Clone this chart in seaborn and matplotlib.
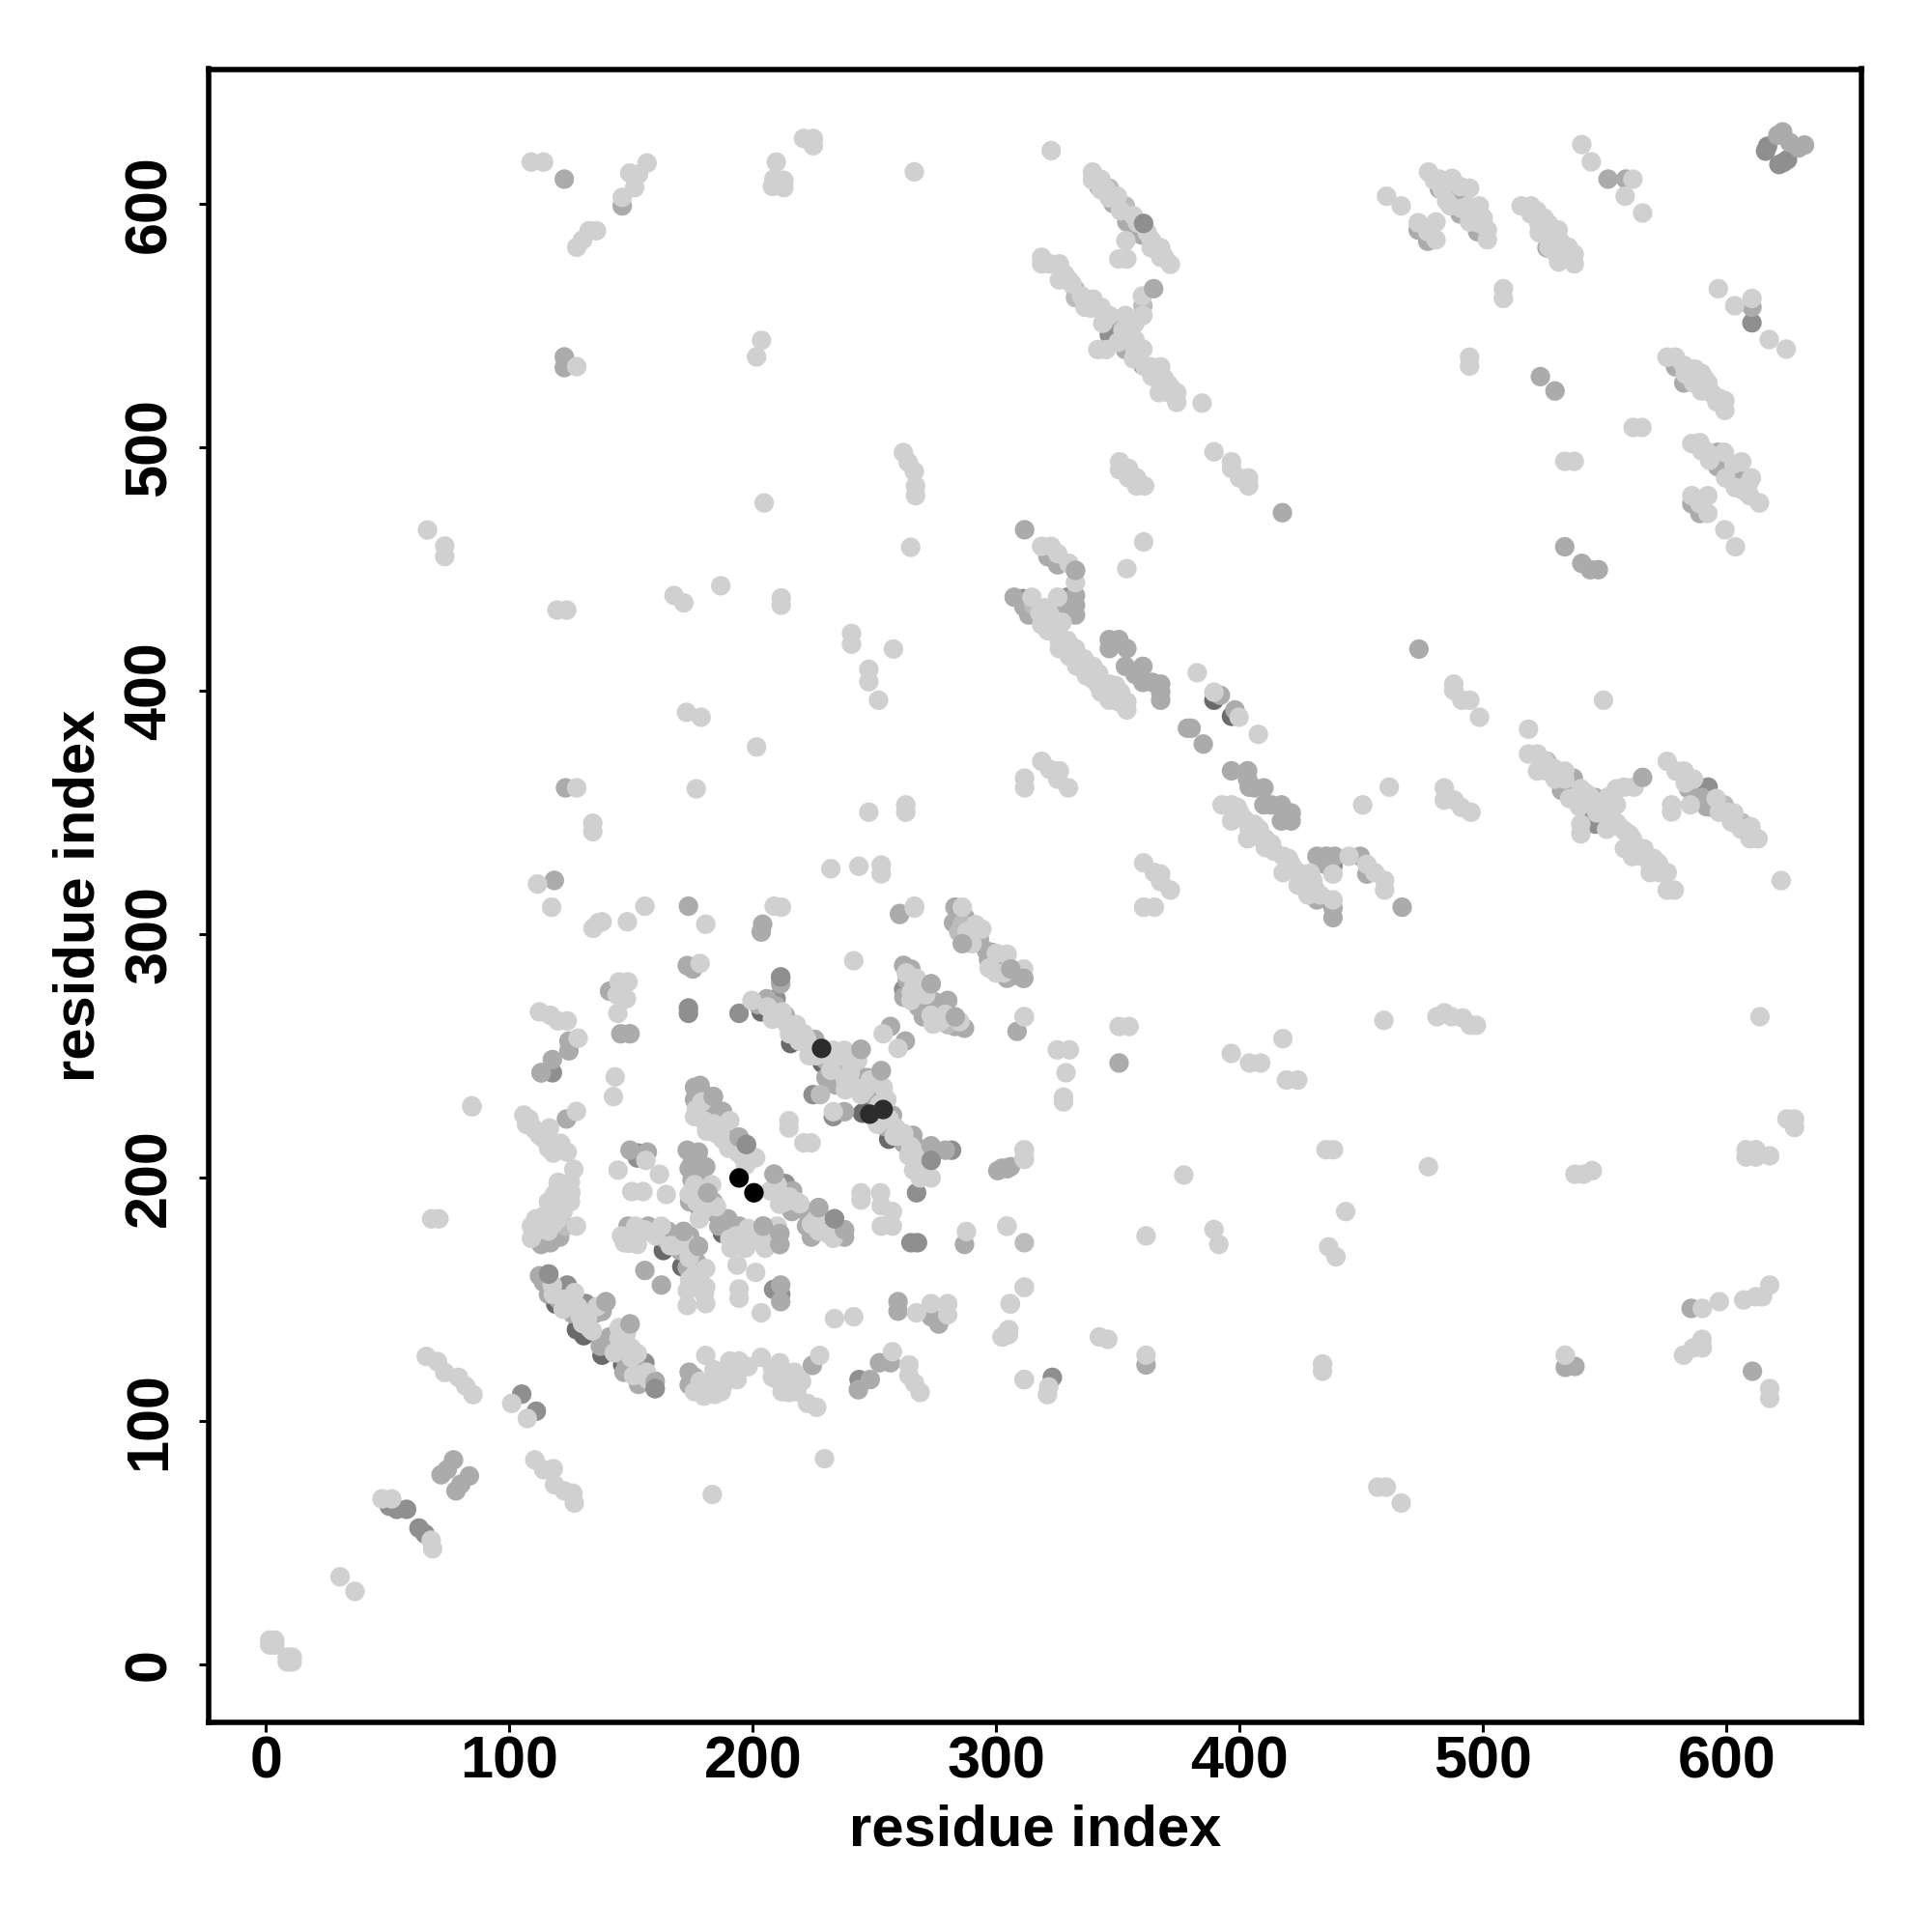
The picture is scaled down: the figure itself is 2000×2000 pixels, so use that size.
import pandas as pd
import matplotlib
matplotlib.use("Agg")
import matplotlib.pyplot as plt
import seaborn as sns

axis_label = "residue index"
x_ticks = [0, 100, 200, 300, 400, 500, 600]
y_ticks = [0, 100, 200, 300, 400, 500, 600]

darker_pts = [(119,148),(127.5,137.5),(130.5,135),(138,127),(170.8,163.4),(163.2,170),(187.5,177),(175.3,193.7),
 (203.4,268),(215.5,255),(228.5,246.9),(245,226.4),(249,228.7),(255.8,215.7),(389.4,396),(396.6,389.4),(146.5,123),(144.2,129)]

dark_pts = [(57.7,63.7),(53.7,63.7),(50.6,65),(65.3,53.6),(62.8,56),(105,111),(111,104),(116.1,160.3),(123.7,155.8),(131.3,148.2),
 (148,131.4),(155.6,123.9),(159.8,116.3),(159.8,113.3),(173.5,267.4),(173.5,269.6),(194.3,267.4),(209.5,273.4),(183.7,233.2),(197.3,213.5),
 (213.3,197.5),(233.5,183),(178.3,186.9),(152.5,208),(153,210),(224.7,234),(233,225),(267.2,205),(273.2,209.7),(267.2,193.7),
 (264.9,173.2),(267.6,173.2),(281.6,211.2),(211.4,282.3),(211.4,152),(208.5,154),(243.6,117),(276.3,264.3),(261.9,277.2),(117.6,243),
 (292.2,300),(311,437.7),(329.2,438.3),(438.3,328),(485.2,603.7),(603.6,486.6),(536.2,360.3),(546.1,353),(543.4,349),(546.1,345.1),
 (589.7,359.6),(592.4,360.3),(350.3,550.8),(346.4,546.1),(349.7,546.1),(360.2,533.6),(323,117.9),(610.4,551),
 (616.8,623.5),(616,621.5),(623.4,616.9),(621.5,616),(625,618)]

mid_pts = [(71.9,77.9),(77,84),(78,71.3),(83.5,77.4),(74.4,80),(80,74),(118.4,322),(122.5,610),(146.3,599),(122.5,537),(122.5,532.6),(123,360),
 (173.5,311.4),(204,304),(203.4,300.8),(260.3,308.4),(283,311),(282.4,304.6),(298.3,292.4),(299.8,288.6),(296.8,289.4),(305.9,285.6),(304.4,281.8),(311.2,281.8),
 (173,287),(175.3,285.6),(211.4,279.5),(261.9,287.1),(264.9,285.6),(263.4,281),(273.2,279.5),(280,272.7),(277,268.9),(283.1,265.9),(286.9,261.3),
 (256.5,262),(262.6,256),(308.5,260),(124.4,256),(124.4,252),(117.6,248.4),(113,243),(141.1,276.5),(145.7,259),(149.5,259),
 (205.7,273.4),(209.5,270.4),(213.3,266.6),(225.4,256.7),(244.4,252.6),(236,241.6),(237.6,227),(252.7,243.8),(257.3,225.6),(265.7,217.3),(279,211.2),
 (304.4,203.6),(300.6,202.8),(286.9,172.5),(178.3,237.8),(176,237),(187.5,227.1),(194.3,216.5),(198,210),(208.7,201.3),(216.3,194.5),(227,187.6),
 (237.6,178.5),(237.6,175.5),(224,175.5),(173,211.2),(177.6,210.4),(180.6,204.4),(173.8,203.6),(181.4,193.7),(183.7,190),(149.5,211.2),(156.6,210.4),
 (148.7,180),(171.5,177.8),(167.7,176.3),(164,174.7),(177.6,171.7),(177,165),(189.7,183),(194.3,180),(204.2,180),(211,177),(211,172.5),(211.4,155.8),(211.4,149),
 (155.6,161.8),(162.4,155.8),(259.6,149),(259.6,145.1),(276.3,139.8),(273.2,142.8),(112.3,159.6),(116,152),(139.6,148.9),(135.8,144.4),
 (149.5,139.8),(141.1,134.5),(137.3,130.7),(173.8,120),(173.8,114.8),(224.4,122.8),(252,123.9),(256.5,123.9),(248.2,117),(243.3,112.8),
 (123.4,224),(120.6,175.5),(116.8,173.2),(113,172.5),(260.3,308),(311.6,466),(332.5,449.3),(332.5,439),(332.5,435),(332.5,431),(328.5,435),
 (307.3,438.3),(311.3,434.4),(313.3,431),(321.2,454.9),(325.2,451.6),(346.4,420.9),(350.3,420.9),(346.4,417.2),(353.6,417.2),(353,409.9),(360.2,409.9),(357,406.6),
 (360.2,403.3),(367.5,402.6),(364.2,403.3),(367.5,396),(367.5,399.3),(417.5,473),(392,398),(398,392),(378.5,384.5),(380,384.5),(385,378),
 (473.6,417),(396.6,367),(403.2,367),(403.2,363.6),(403.9,360.3),(409.9,360),(406,360),(409.9,353),(417.1,353),(421.1,349.7),(421.1,346.4),(417.1,346.4),(413,353),
 (431.7,314),(434.3,314.7),(438.3,310.7),(438.3,306.7),(431.7,331.9),(435.6,331.9),(439,331.9),(435,328.6),(449.5,331.9),(452.2,324.6),(466.7,311),
 (623,629.4),(621,628),(629.6,622.8),(626,625),(632,624),(489.8,600.3),(490.5,595.7),(498.4,595.7),(497.7,588.4),(473.3,589.1),(477.2,584.5),
 (526.2,581.8),(533.5,582.5),(533.5,578.5),(551.3,610),(558.6,610),(610.4,557.4),(523.5,528.9),(529.5,523),(579,532.9),(582.4,526.3),
 (596.3,497.8),(596.3,491.9),(602.9,490.6),(606.2,485),(585.7,476.7),(589,472.7),(533.5,459),(540.5,452.2),(544,449.6),(547.3,449.6),
 (532.2,359),(550.7,349.7),(584.4,359.6),(588.4,355.6),(591.7,352.3),(353.6,592.4),(359.6,587.1),(585.4,146.2),(610.6,120.4),(533.7,122),(537.7,122.4),
 (361.5,123),(302.3,203.8),(305.8,204.4),(353,540),(350.4,247)]

mid_fill_pts = [(202,271),(210,266),(218,260),(224,253),(230,248),(236,246),(242,244),(234,238),(230,241),
 (250,233),(247,241),(254,221),(262,214),(268,212),(270,205),(176,232),(182,226),(190,218),(193,214),
 (212,194),(222,186),(230,181),(222,180),(216,186),(175,206),(178,202),(175,199),(180,192),(174,190),(183,186),
 (190,180),(197,175),(207,176),(186,180),(165,178),(170,170),(174,176),(173,163),(178,158),(150,178),(157,180),
 (114,157),(120,150),(125,147),(133,145),(138,145),(126,144),(142,132),(146,128),(148,124),(152,122),(153,115),(147,120),
 (176,118),(183,114),(112,176),(119,176),(262,274),(268,270),(275,272),(270,266),(283,262),(287,307),(293,298),(296,293),(302,289),(308,283),
 (342,607),(348,600),(355,592),(345,552),(355,545),(358,536),(482,606),(488,604),(492,600),(496,592),(528,588),(584,528),(594,496),(600,491),(602,488),(606,488),
 (537,364),(546,356),(590,356),(594,352)]

midlight_pts = [(284.6,300.8),(286,304),(289,298),(268.7,275),(280,262.8),(239,246.1),(234.5,244.6),(227.7,234),(122.9,180),(311.5,173.2),
 (315.3,435),(431,318),(425,324.6),(346.4,606.3),(353,599),(332.5,564.6),(332.5,561.3),(360.2,558),(526.2,370.9),(599,353),(606.3,345.7)]

light_pts = [(1.5,10),(3.5,10),(1.5,8),(3.5,8),(8.7,3),(10.7,3),(8.7,1),(10.7,1),(30.4,36),(36.5,30),(47.6,68),(51.6,68),(67.8,51),(68.4,47.5),
 (110.4,84),(118,80.4),(114,80),(118.5,73.8),(122.5,71.3),(126.6,66.3),(126,70.3),(183.3,69.8),(229.4,84.5),
 (65.8,126.5),(70.4,124.4),(73.4,119.9),(79,117.9),(82,114.3),(85,110.8),(100.9,107.2),(107.3,101),
 (68,183),(71,183),(84.6,229),(66.3,465.9),(73.4,459.3),(73.4,455),
 (108.9,617),(114,617),(146.3,602.5),(149.4,612.5),(153,612),(156.5,616.6),(151.4,606.5),(127.6,582),(130,585),(132.7,588.8),(135.7,588.8),
 (127.6,533),(203.5,543.8),(201.5,537),(209.6,617),(208.6,610),(208,607),(212.7,609.5),(212.7,606.5),(220.8,626.7),(224.8,626.7),(224.8,623.7),
 (266.3,613),(322.5,621.7),(261.8,497.7),(263.8,493.7),(266.3,490),(266.8,484),(266.8,480),(204.6,477),(264.8,458.8),
 (167.6,439),(171.6,436),(186.8,443),(211.6,438),(211.6,435),(119.5,433),(123.5,433),(240.5,423.4),(240.5,419),(247.6,408.7),(247.6,403.6),(251.6,396),(257.7,417),
 (172.7,391),(178.7,389),(201.5,376.8),(176.7,359.6),(127.6,360),(134.2,345.5),(134.2,342),(247.6,350),(262.8,353),(262.8,350),
 (232,326.8),(243.5,327.8),(252.7,328.3),(252.7,324.7),(266.3,310.6),(111.5,320.5),(117.3,311),(136.6,304.6),(134.3,302.3),(138,305),(148.4,305),(155.6,311.4),(180.6,304),
 (208.7,311.4),(211.7,311),(266.4,311.4),(286,311),(291.5,303.8),(304.4,291.7),(311.2,285.6),(299.8,284),(178.3,287.9),(241.4,289),
 (267.2,281.8),(264.9,272.7),(273.2,266.6),(253.5,259),(259.6,253),(311.5,266),(112.3,268),(116.8,266.6),(119.9,264.3),(123.7,264.3),(128.2,257.2),
 (145,280.3),(148.7,280.3),(144.2,275),(148,273.4),(144.5,267.4),(199.6,272.7),(217.8,262.8),(212,268),(220.9,259),(233,252.2),(237.6,252.2),(233,227),
 (248.2,240),(242,237),(253.5,237),(244.4,234),(251.2,221.8),(258.8,220.3),(260,217),(269.5,209.7),(273.2,199.8),(268.7,199.8),(264.9,212.7),
 (311.5,211.2),(311.5,207.4),(304.4,180),(287.7,177.8),(214.8,223.3),(214.8,220.3),(220.9,214.2),(223.9,214.2),(244.4,193.7),(244.4,190.7),(252.4,193.7),(252.7,188.4),
 (257.3,186),(257.3,180),(252.7,180),(176.8,228),(179.9,223.3),(190.5,223.3),(187.5,215.7),(201.1,208.1),(194,210),(191,213),
 (207.2,194.5),(213.3,190),(219.3,189.2),(224,180.8),(230.7,177),(176,197),(173.8,193),(176.8,190),(156,207),(144.6,203),(161.6,201.3),(150.2,194.2),(154.8,194.2),(164.4,193),
 (151.8,180),(155.6,178.5),(147.2,173.2),(152.5,172.5),(162.4,180),(166,172),(173.8,167),(180.6,162.6),(173,153.5),(173,147.4),(180.6,155),(180.6,148.2),
 (190.5,174.7),(198,179),(205.5,175),(199,174),(193.5,164),(201.1,161),(194.3,154.2),(194.3,150.4),(203.4,144.4),
 (233.5,142),(241.4,142.8),(267.2,144.4),(273.2,148.2),(280,148.2),(280,143.6),(311.5,155),(305.6,148.2),(305.1,137.5),(302.5,134.5),
 (117.6,155.8),(126.7,152.7),(122,145.9),(132,142),(133,138),(145,138.3),(152.5,127.7),(151,118.6),(156.3,120),
 (180.6,126.9),(178.3,116.3),(184.4,117.8),(179.9,110.2),(184.4,110.9),(190.5,124.6),(194.3,124.6),(198,122.3),(193.5,117),(188.2,115.5),
 (203.4,126.1),(211,123.9),(213.3,120),(212,116),(220,116.3),(214.8,111.7),(222.4,107.2),(226.2,105.6),(227.4,126.9),(257.3,128.4),
 (264.1,123),(264.1,118.6),(266.4,115.5),(268.7,111.7),(311.5,117),
 (105.9,225.6),(107,221.8),(112.3,217.3),(116.4,220.3),(117,214),(123.7,210.4),(127.5,227.1),(126.4,203.3),(143.4,241.3),(142.7,233.2),(84.5,229.4),
 (122.2,196.8),(125.2,193.7),(118.4,193),(125,190),(116.1,186.1),(110.8,183),(127.5,180),(113.8,180),(110,177),(118,181),
 (318.6,459.2),(322.5,459.2),(325.2,456.2),(329.8,452.2),(332.5,444.3),(325.2,438.3),(314.6,438.3),(317.9,431.7),(318.6,427),(321.9,427.8),(325.2,424.5),(321.2,424.5),
 (329.2,420.5),(325.9,420.5),(332.5,417.2),(325.9,417.2),(331.8,413.9),(335.8,409.9),(339.7,409.9),(339.7,404.6),(346.4,402.6),(343,399.3),(351,399.3),(346.4,396),
 (353.6,395.3),(353.6,392),(350.3,395.3),(360.5,461),(353.6,450),(382.5,407.3),(389.4,399.3),(399.7,389),(407.6,382),(461.4,360.3),(450.5,353),
 (392.7,353),(396.6,353),(400,349.7),(396.6,346.4),(403.9,343),(403.2,339.1),(410.5,339.1),(410.5,335.5),(417.8,331.9),(417.8,325.2),(421.1,328.6),(427.7,321.3),(438.3,314),
 (438.3,324.6),(444.9,331.9),(452.2,328.6),(455.5,325.2),(459.5,322),(459.5,318),(318.6,370.9),(321.9,367.6),(325.9,367),(325.2,363.6),(329.6,360),(311.6,364),(311.6,360),
 (360.5,329.2),(364.9,325.2),(367.5,324.6),(367.5,321.5),(371.5,318),(360.5,311),(364.9,311),(350.4,262),(354.5,262),(325,252.4),(330,252.4),(328.6,243),(327.6,233),(327.6,231),
 (311.4,266),(396.5,250.9),(404,247),(408.6,247),(417.7,257),(419.2,240),(423.8,240),(377,201),(389.4,178.6),(391.4,172.5),(435.4,211.4),(438.5,211.4),(443.5,186),(436.5,171.5),(439.5,167.4),
 (477.5,204.4),(459.2,264.5),(481,266),(484,267.6),(487,266),(491.6,265.5),(497.2,262.5),(494.7,262.5),(613.7,266),(537.7,201.3),(541.3,201.3),(544.8,202.8),
 (608,211.4),(612,211.4),(608,208.4),(612,208.4),(617.7,208.9),(624.8,224),(627.9,224),(627.9,220.5),(590,146.2),(597,149),(607,149.7),(612,151),(614.7,151),(617.7,155.8),
 (582.3,127),(586.3,130),(589.9,133.5),(590,130),(617.7,113.3),(617.7,109.3),(533.7,127),(361.5,127),(342.3,134.5),(345.8,133.5),(304.8,137),(302.3,134.5),(305,135.4),
 (305.8,148),(311.4,154.8),(311.4,117),(321,110.8),(321.5,114),(434,123.4),(434,120.4),(456.7,72.8),(460.2,72.8),(466.3,66.3),(304.3,180),(311.4,211.4),(311.4,208),(361.5,176),
 (460.3,603),(466.3,599),(477.5,612.9),(479.9,609.6),(487.2,610.3),(483.2,605.6),(490.5,607),(494.4,606.3),(486.5,599),(493.8,599),(498.4,599),(494.4,592.4),(501.7,589.1),(501.7,585.1),
 (473.3,592.1),(480.6,592.4),(480.6,585.1),(477.2,588.4),(515.6,599),(519.6,599),(519.6,595.7),(522.9,591.7),(526.8,591.7),(523,588),(530.8,589.1),(526.8,585.8),(530.2,585.8),
 (530.2,579.2),(537.4,579.2),(537.4,575.2),(534.1,578.5),(540.5,624.2),(544.4,617.1),(561.5,610),(558.3,603),(565.5,596.1),(508.3,565),(508.3,561),
 (596.6,565),(603.3,558),(610.4,561),(617.5,544.1),(624.5,540.2),(494.4,536.9),(494.4,533.2),(575.5,536.9),(579,536.9),(582.4,533.5),(585.7,530.2),(589.7,530.2),(586.4,526.3),(592.3,526.3),
 (589.7,523),(592.3,523),(599.3,519),(596,518.5),(599.3,515),(561.6,508),(565.2,508),(533.5,494.1),(537.4,494.1),(585.7,501.4),(589,501.8),(589.7,498.5),(599,497.8),(593,494.5),
 (606.2,493.9),(610.2,487.3),(599.6,487.3),(609.5,480),(613.5,477),(603.6,483.3),(585.7,480),(592.3,480),(589,476.7),(592.3,472.7),(599.3,466),(603.6,459),
 (339.5,612.9),(339.5,609.6),(343,609.9),(343,605.6),(349.7,603),(346.4,602.3),(356.3,595),(353.2,584.7),(363.6,585.1),(367.5,581.8),(363.6,581.8),(367.5,577.9),(371.5,575),(350.3,577.2),(353.6,577.2),
 (318.6,577.9),(318.6,575.2),(325.9,575.2),(321.9,575.2),(325.9,568.6),(329.8,568.6),(336.4,560.7),(339.7,560.7),(343,557.4),(336.4,557.4),(346.4,554),(343.7,550.8),(353,554),(360.2,554),(356.9,550.8),
 (360,562),(341.7,540),(345,540),(356.9,544.1),(353.6,544.1),(360.2,540.2),(356.9,540),(356.3,536.2),(363.6,532.9),(367.5,532.9),(370.8,525.6),(374.1,522.3),(366.9,522.3),(374.1,518.3),(370.8,522.3),(384.5,518),
 (389.4,498),(396.6,493.9),(396.6,491.2),(399.9,487.3),(403.6,487.3),(403.6,484),(350.6,493.9),(350.6,490.6),(354.3,491.2),(354.3,487.3),(357.6,484),(360.9,484),(357.6,487.3),
 (487.9,402.6),(487.9,400),(491.2,396),(494.5,396),(498.5,389),(518.6,384.1),(518.6,373.9),(522.3,373.9),(522.3,366.9),(526.2,366.9),(529.5,363.6),(533.5,366.9),(533.5,363.6),
 (540.1,359.6),(544.1,356.3),(535.5,355.6),(539.5,352.3),(546.7,349.7),(540.1,345.1),(540.1,341.1),(551.4,356.3),(554.7,359.6),(558,360.3),(562,360.3),(554.7,353),(554.7,345.7),(550.7,343),(558,342.4),
 (561.3,339.1),(558,335.1),(565.3,331.8),(561.3,331.8),(568.6,328.5),(568.6,325.2),(575.6,325.2),(572.5,325.2),(575.6,318),(578.5,318),(575.6,370.9),(579.2,366.9),(582.5,366.9),(586.4,363.6),
 (585.1,353),(595.7,355.6),(603,349.7),(603,345.7),(609.6,342.4),(612.9,339.1),(609.6,339.1),(577.4,353),(577.4,350.1),(622.4,321.9),(549.4,396),
 (484,360),(484,355),(488,355),(491,352),(495,350)]

light_fill_pts = [(206,270),(214,263),(208,265),(215,259),(219,256),(222,257),(223,250),(232,249),(232,244),(238,240),(240,248),(240,243),(243,248),(236,250),(238,236),(226,250),
 (246,236),(252,230),(255,232),(250,224),(258,217),(264,209),(266,203),(271,203),(272,201),(262,218),(256,224),
 (179,231),(184,222),(187,221),(196,208),(194,213),(197,205),(185,218),(181,219),(176,225),(190,212),
 (210,197),(215,192),(218,190),(226,183),(233,178),(227,178),(211,189),(233,175),
 (183,197),(177,195),(185,188),(180,187),(178,183),(193,176),(200,177),(203,176),(210,180),(191,171),(197,171),(205,171),
 (168,172),(172,174),(175,170),(176,160),(175,156),(180,152),(174,158),(153,176),(160,176),(146,176),(149,173),
 (118,152),(124,149),(128,147),(129,143),(136,147),(122,150),(130,140),(134,137),(145,134),(148,136),(150,130),(150,126),(154,119),(157,117),(143,128),
 (180,113),(187,112),(186,118),(176,112),(190,118),(191,121),(184,121),(208,122),(210,117),(215,116),(218,112),(217,120),(208,118),(212,112),
 (112,182),(114,184),(116,178),(120,183),(122,186),(124,196),(119,188),(116,190),(122,192),(120,198),(125,198),(109,180),(109,175),
 (108,224),(110,220),(114,216),(116,212),(120,212),(118,210),(121,214),
 (263,284),(266,278),(265,276),(271,275),(277,264),(285,264),(279,267),(274,263),(280,266),
 (288,301),(290,296),(294,302),(303,284),(297,286),(300,292),
 (320,434),(322,431),(327,428),(330,414),(333,410),(337,406),(342,402),(342,407),(349,402),(336,413),
 (399,352),(402,347),(406,345),(405,340),(408,343),(413,337),(414,334),(420,331),(423,326),(429,325),(430,322),(433,316),(428,316),(424,320),
 (525,371),(529,368),(531,366),(542,358),(549,352),(552,348),(556,344),(560,341),(563,336),(566,335),(570,331),(572,329),
 (583,362),(597,350),(600,350),(602,346),(606,343),(610,344),
 (328,571),(331,567),(335,562),(339,557),(352,548),(350,543),(361,533),(364,529),(367,527),(369,528),(372,524),
 (345,606),(351,597),(358,592),(362,588),(365,583),(369,578),
 (482,610),(485,601),(491,598),(498,592),(500,594),(522,597),(525,594),(532,584),(527,582),(535,582),(531,576),
 (583,530),(587,532),(591,528),(594,522),(597,520),(592,498),(603,493),(609,485),(607,482)]

top_mid_pts = [(252.7,243.8),(244.4,252.6),(273.2,213),(237.6,178.5),(139.6,148.9),(149.5,139.8),(183.7,233.2),(565.5,364.3),(364.6,565),(332.5,449.3),(159.8,116),(113,243),
 (181.4,193.7),(171.5,177.8),(177.6,171.7),(211,177),(211,172.5),(204.2,180),(194.3,216.5),(208.7,201.3),(227,187.6),(286,296),(311.2,281.8),(305.9,285.6),(283.1,265.9),(273.2,279.5)]
top_dark_pts = [(273.2,207),(360.5,591.8),(211.4,282.3),(233.5,183),(197.3,213.5),(159.8,113.3),(116.1,160.3)]
top_darkest_pts = [(228.2,253),(253.5,227.9),(248,226)]
black_pts = [(194.3,199.8),(200.4,193.7)]

layers = [("darker", darker_pts), ("dark", dark_pts), ("mid", mid_pts), ("mid", mid_fill_pts), ("midlight", midlight_pts), ("light", light_pts), ("light", light_fill_pts),
          ("topmid", top_mid_pts), ("topdark", top_dark_pts), ("darkest", top_darkest_pts), ("black", black_pts)]
greys = {"darker": "#6a6a6a", "dark": "#8f8f8f", "mid": "#ababab", "midlight": "#bcbcbc", "light": "#d0d0d0",
         "topmid": "#ababab", "topdark": "#8f8f8f", "darkest": "#2c2c2c", "black": "#000000"}

rows = [{"x": p[0], "y": p[1], "level": name} for name, pts in layers for p in pts]
df = pd.DataFrame(rows)

sns.set_theme(style="white")
plt.rcParams["font.family"] = ["Liberation Sans", "DejaVu Sans"]
plt.rcParams["font.weight"] = "bold"

fig = plt.figure(figsize=(10, 10), dpi=200)
ax = fig.add_axes([216/2000, 1 - 1783/2000, 1711/2000, 1711.5/2000])
sns.scatterplot(data=df, x="x", y="y", hue="level", palette=greys, s=53, linewidth=0, legend=False, ax=ax)

ax.set_xlim(-23.6, 655.4)
ax.set_ylim(-23.8, 655.2)
ax.set_xticks(x_ticks)
ax.set_yticks(y_ticks)
ax.tick_params(axis="both", length=3.5, width=1.1, color="black", labelsize=22, labelcolor="black", bottom=True, left=True)
ax.tick_params(axis="x", pad=1.2)
ax.tick_params(axis="y", pad=7.8)
for t in ax.get_yticklabels():
    t.set_rotation(90)
    t.set_verticalalignment("center")
    t.set_fontweight("bold")
for t in ax.get_xticklabels():
    t.set_fontweight("bold")
for s in ax.spines.values():
    s.set_linewidth(2.0)
    s.set_color("black")
ax.set_xlabel(axis_label, fontsize=21.5, fontweight="bold", color="black", labelpad=5.2)
ax.set_ylabel(axis_label, fontsize=21.5, fontweight="bold", color="black", labelpad=6.5)
fig.savefig("out.png", dpi=200, facecolor="white")
